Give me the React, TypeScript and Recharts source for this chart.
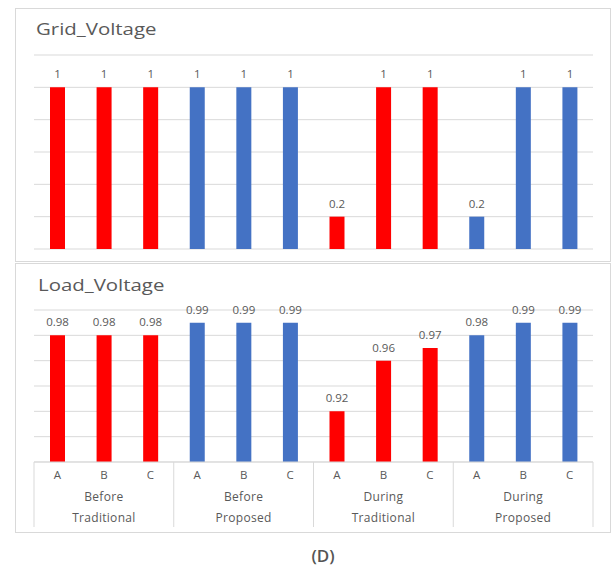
import React from 'react';
import { BarChart, Bar, XAxis, YAxis, CartesianGrid, Cell, LabelList } from 'recharts';

const letters = ['A', 'B', 'C', 'A', 'B', 'C', 'A', 'B', 'C', 'A', 'B', 'C'];
const phases = ['Before', 'Before', 'During', 'During'];
const methods = ['Traditional', 'Proposed', 'Traditional', 'Proposed'];
const gridVoltage = [1, 1, 1, 1, 1, 1, 0.2, 1, 1, 0.2, 1, 1];
const loadVoltage = [0.98, 0.98, 0.98, 0.99, 0.99, 0.99, 0.92, 0.96, 0.97, 0.98, 0.99, 0.99];
const gridTicks = [0, 0.2, 0.4, 0.6, 0.8, 1.0, 1.2];
const loadTicks = [0.88, 0.9, 0.92, 0.94, 0.96, 0.98, 1.0];

const methodColors: Record<string, string> = { Traditional: '#ff0000', Proposed: '#4472c4' };

const data = letters.map((letter, i) => {
  const g = Math.floor(i / 3);
  return {
    id: `${phases[g]}-${methods[g]}-${letter}`,
    letter,
    phase: phases[g],
    method: methods[g],
    grid: gridVoltage[i],
    load: loadVoltage[i],
  };
});

const FONT = '"Open Sans", "Noto Sans", sans-serif';
const TEXT = '#595959';
const LINE = '#d9d9d9';

const GroupTick = (props: any) => {
  const { x, y, payload } = props;
  const i: number = payload?.index ?? props.index ?? 0;
  const half: number = payload?.offset ? payload.offset : 559 / 12 / 2;
  const row = data[i];
  return (
    <g>
      <text x={x} y={y + 14} textAnchor="middle" dominantBaseline="middle" fontSize={11.5} fill={TEXT} fontFamily={FONT}>
        {row.letter}
      </text>
      {i % 3 === 1 && (
        <>
          <text x={x} y={y + 36} textAnchor="middle" dominantBaseline="middle" fontSize={12} letterSpacing={0.3} fill={TEXT} fontFamily={FONT}>
            {row.phase}
          </text>
          <text x={x} y={y + 57} textAnchor="middle" dominantBaseline="middle" fontSize={12} letterSpacing={0.3} fill={TEXT} fontFamily={FONT}>
            {row.method}
          </text>
        </>
      )}
      {i % 3 === 0 && <line x1={x - half} x2={x - half} y1={y} y2={y + 65} stroke={LINE} />}
      {i === data.length - 1 && <line x1={x + half} x2={x + half} y1={y} y2={y + 65} stroke={LINE} />}
    </g>
  );
};

const titleStyle: React.CSSProperties = {
  position: 'absolute',
  fontSize: 17,
  color: TEXT,
  lineHeight: '24px',
  transform: 'scaleX(1.2)',
  transformOrigin: 'left center',
  whiteSpace: 'nowrap',
};

export default function App() {
  return (
    <div style={{ position: 'absolute', left: 0, top: 0, width: 616, height: 567, background: '#fff', fontFamily: FONT }}>
      <div style={{ position: 'absolute', left: 15, top: 8, width: 596, height: 254, border: `1px solid ${LINE}`, boxSizing: 'border-box' }} />
      <div style={{ position: 'absolute', left: 15, top: 263, width: 596, height: 270, border: `1px solid ${LINE}`, boxSizing: 'border-box' }} />
      <div style={{ ...titleStyle, left: 36, top: 17 }}>Grid_Voltage</div>
      <div style={{ ...titleStyle, left: 38, top: 273 }}>Load_Voltage</div>

      <div style={{ position: 'absolute', left: 0, top: 0 }}>
        <BarChart width={616} height={262} data={data} margin={{ top: 55, right: 23, bottom: 13, left: 34 }}>
          <CartesianGrid vertical={false} stroke={LINE} />
          <XAxis dataKey="id" hide />
          <YAxis hide domain={[0, 1.2]} ticks={gridTicks} />
          <Bar dataKey="grid" barSize={15} isAnimationActive={false}>
            {data.map((d) => (
              <Cell key={d.id} fill={methodColors[d.method]} />
            ))}
            <LabelList dataKey="grid" position="top" offset={9} fill={TEXT} fontSize={11.5} fontFamily={FONT} />
          </Bar>
        </BarChart>
      </div>

      <div style={{ position: 'absolute', left: 0, top: 264 }}>
        <BarChart width={616} height={269} data={data} margin={{ top: 46, right: 23, bottom: 0, left: 34 }}>
          <CartesianGrid vertical={false} stroke={LINE} />
          <XAxis
            dataKey="id"
            height={71}
            interval={0}
            tickLine={false}
            tickSize={0}
            tickMargin={0}
            axisLine={{ stroke: LINE }}
            tick={<GroupTick />}
          />
          <YAxis hide domain={[0.88, 1.0]} ticks={loadTicks} allowDataOverflow />
          <Bar dataKey="load" barSize={15} isAnimationActive={false}>
            {data.map((d) => (
              <Cell key={d.id} fill={methodColors[d.method]} />
            ))}
            <LabelList dataKey="load" position="top" offset={9} fill={TEXT} fontSize={11.5} fontFamily={FONT} />
          </Bar>
        </BarChart>
      </div>

      <div style={{ position: 'absolute', left: 0, width: 646, top: 544, textAlign: 'center', fontSize: 17, fontWeight: 600, color: '#555', lineHeight: '24px' }}>(D)</div>
    </div>
  );
}
